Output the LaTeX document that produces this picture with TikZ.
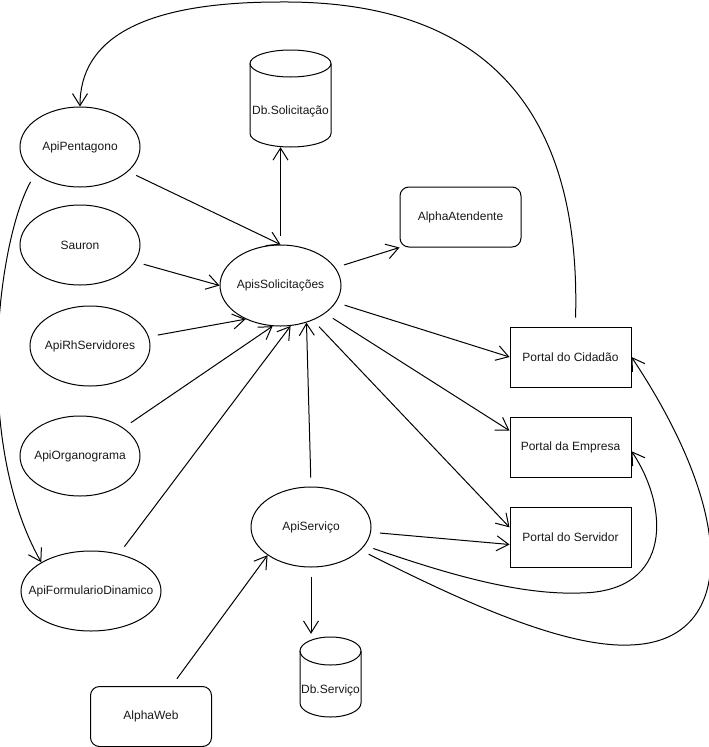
\documentclass[tikz,border=0pt]{standalone}
\usepackage{fontspec}
\setmainfont{Liberation Sans}
\usetikzlibrary{arrows.meta,shapes.geometric,calc}
\newcommand{\zw}[1]{\makebox[0pt]{#1}}
\begin{document}
\begin{tikzpicture}[x=1pt,y=-1pt,
  every node/.style={font=\fontsize{12pt}{14pt}\selectfont, text=black!90},
  ell/.style={draw, ellipse, line width=1pt, inner sep=0pt, minimum width=120pt, minimum height=80pt},
  box/.style={draw, rectangle, line width=1pt, inner sep=0pt, minimum width=121pt, minimum height=60pt},
  rbox/.style={box, rounded corners=9pt},
  ghost/.style={rectangle, inner sep=0pt},
  conn/.style={line width=1pt, shorten <=9pt, -{Straight Barb[length=12pt,width=15pt]}},
  cylline/.style={line width=1pt}
]
\fill[white] (0,0) rectangle (709,747);
\useasboundingbox (0,0) rectangle (709,747);

% nodes
\node[ell] (pent) at (80,147) {\zw{ApiPentagono}};
\node[ell] (sauron) at (80,245) {\zw{Sauron}};
\node[ell] (rh) at (90,346) {\zw{ApiRhServidores}};
\node[ell] (org) at (80,456) {\zw{ApiOrganograma}};
\node[ell, minimum width=140pt] (form) at (91,591) {\zw{ApiFormularioDinamico}};
\node[ell, minimum width=121pt, minimum height=81pt] (sol) at (280.5,285.5) {\zw{ApisSolicitações}};
\node[ell] (serv) at (311,527) {\zw{ApiServiço}};
\node[rbox] (aatd) at (460.5,217) {AlphaAtendente};
\node[box] (pcid) at (570.5,357) {Portal do Cidadão};
\node[box] (pemp) at (570.5,447) {Portal da Empresa};
\node[box] (pserv) at (570.5,537) {Portal do Servidor};
\node[rbox] (aweb) at (151,716.5) {AlphaWeb};

% cylinders
\node[ghost, minimum width=81pt, minimum height=97pt] (dbsol) at (290.5,98.5) {};
\draw[cylline] (290.5,63.5) ellipse [x radius=40.5, y radius=13.5];
\draw[cylline] (250,63.5) -- (250,133.5) arc[start angle=180, end angle=0, x radius=40.5, y radius=13.5] -- (331,63.5);
\node (dbsoltxt) at (290.5,111) {Db.Solicitação};

\node[ghost, minimum width=61pt, minimum height=80pt] (dbserv) at (330.5,677) {};
\draw[cylline] (330.5,651) ellipse [x radius=30.5, y radius=14];
\draw[cylline] (300,651) -- (300,703) arc[start angle=180, end angle=0, x radius=30.5, y radius=14] -- (361,651);
\node (dbservtxt) at (330.5,690) {Db.Serviço};

% connectors
\draw[conn] (pcid.81) .. controls (580,150) and (520,0) .. (280,2) .. controls (140,2) and (80,40) .. (pent.north);
\draw[conn] (pent.211) .. controls (-2,240) and (-28,440) .. (form.150);
\draw[conn] (pent.-27) -- (sol.north);
\draw[conn] (sauron.-17) -- (sol.west);
\draw[conn] (rh.9) -- (sol.224);
\draw[conn] (org.33) -- (sol.259);
\draw[conn] (form.53) -- (sol.-76);
\draw[conn] (serv.north) -- (sol.-55);
\draw[conn] (sol.north) -- (sol.north |- dbsol.south);
\draw[conn] (sol.18) -- (aatd.south west);
\draw[conn] (sol.-17) -- (pcid.west);
\draw[conn] (sol.-32) -- (pemp.165);
\draw[conn] (sol.-47) -- (pserv.171);
\draw[conn] (serv.-5) -- (pserv.187);
\draw[conn] (serv.-19) .. controls (450,575) and (520,595) .. (580,593) .. controls (675,592) and (668,505) .. (pemp.-4);
\draw[conn] (serv.-25) .. controls (450,595) and (560,648) .. (630,645) .. controls (735,642) and (740,520) .. (pcid.east);
\draw[conn, shorten >=3pt] (serv.south) -- (serv.south |- dbserv.north);
\draw[conn] (aweb.56) -- (serv.213);
\end{tikzpicture}
\end{document}
